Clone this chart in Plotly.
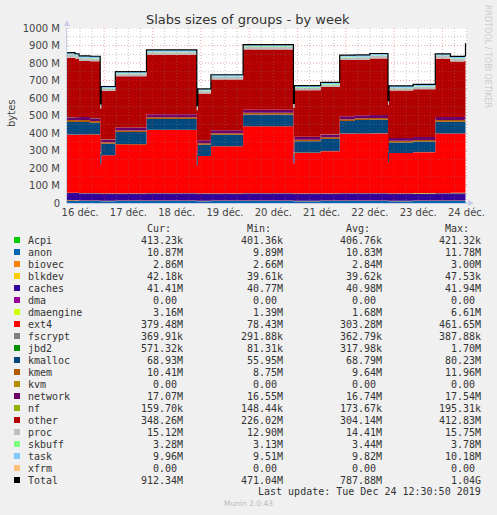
import numpy as np
import pandas as pd
import plotly.graph_objects as go

# sample times (30 min resolution, only where the values change)
times = ["2019-12-16 05:30", "2019-12-16 09:30", "2019-12-16 11:30", "2019-12-16 17:00",
         "2019-12-16 22:00", "2019-12-16 22:30", "2019-12-17 05:30", "2019-12-17 21:00",
         "2019-12-18 22:00", "2019-12-18 22:30", "2019-12-19 05:00", "2019-12-19 21:00",
         "2019-12-20 22:00", "2019-12-20 22:30", "2019-12-21 11:30", "2019-12-21 21:00",
         "2019-12-22 04:30", "2019-12-22 12:00", "2019-12-22 21:00", "2019-12-22 21:30",
         "2019-12-23 09:30", "2019-12-23 20:30", "2019-12-24 04:00", "2019-12-24 11:00",
         "2019-12-24 11:30"]

# values in M bytes, stacked in this order
acpi = [0.42, 0.42, 0.41, 0.41, 0.40, 0.40, 0.40, 0.41, 0.40, 0.40, 0.40, 0.41, 0.40,
        0.40, 0.41, 0.41, 0.41, 0.41, 0.40, 0.40, 0.41, 0.41, 0.41, 0.41, 0.41]
anon = [11.7, 11.6, 11.5, 11.3, 9.9, 10.0, 10.4, 11.2, 9.9, 10.0, 10.5, 11.3, 9.9,
        10.1, 10.4, 11.0, 11.2, 11.2, 9.9, 10.1, 10.5, 10.9, 10.9, 10.9, 10.87]
biovec = [2.95, 2.95, 2.9, 2.9, 2.7, 2.7, 2.8, 2.9, 2.7, 2.7, 2.8, 2.9, 2.7,
          2.7, 2.8, 2.9, 2.9, 2.9, 2.7, 2.75, 2.8, 2.85, 2.85, 2.85, 2.86]
blkdev = [0.047, 0.045, 0.042, 0.040, 0.040, 0.040, 0.040, 0.040, 0.040, 0.040, 0.040, 0.040, 0.040,
          0.040, 0.040, 0.040, 0.040, 0.040, 0.040, 0.040, 0.040, 0.042, 0.042, 0.042, 0.042]
caches = [41.9, 41.8, 41.5, 41.3, 40.8, 40.8, 40.9, 41.1, 40.8, 40.8, 40.9, 41.1, 40.8,
          40.8, 40.9, 41.1, 41.1, 41.2, 40.8, 40.9, 41.0, 41.3, 41.3, 41.4, 41.41]
dmaengine = [1.5, 1.5, 1.5, 1.6, 1.4, 1.4, 1.5, 1.6, 1.4, 1.4, 1.5, 1.7, 1.4,
             1.4, 1.6, 1.8, 1.9, 2.0, 1.4, 1.5, 1.7, 2.2, 2.4, 2.6, 3.16]
ext4 = [332, 332, 333, 334, 166, 217, 280, 360, 161, 213, 268, 381, 170,
        232, 240, 339, 339, 340, 178, 230, 234, 339, 339, 340, 379.48]
fscrypt = [0.38, 0.38, 0.38, 0.37, 0.30, 0.35, 0.36, 0.37, 0.29, 0.35, 0.36, 0.37, 0.30,
           0.35, 0.36, 0.37, 0.37, 0.37, 0.30, 0.35, 0.36, 0.37, 0.37, 0.37, 0.37]
jbd2 = [0.3, 0.3, 0.3, 0.3, 0.1, 0.2, 0.3, 0.3, 0.1, 0.2, 0.3, 0.4, 0.1,
        0.2, 0.3, 0.4, 0.4, 0.4, 0.1, 0.2, 0.3, 0.5, 0.5, 0.5, 0.57]
kmalloc = [72, 72, 72, 66, 60, 65, 69, 62, 58, 64, 65, 66, 57,
           65, 69, 72, 77, 77, 58, 60, 60, 66, 66, 67, 68.93]
kmem = [10.5, 10.5, 10.4, 10.0, 8.8, 9.0, 9.3, 9.8, 8.8, 9.0, 9.3, 10.2, 8.8,
        9.1, 9.5, 10.0, 10.2, 10.2, 8.8, 9.1, 9.4, 10.2, 10.3, 10.4, 10.41]
network = [16.9, 16.9, 16.8, 16.7, 16.6, 16.6, 16.7, 16.8, 16.6, 16.6, 16.7, 16.9, 16.6,
           16.6, 16.7, 16.8, 16.9, 16.9, 16.6, 16.6, 16.7, 17.0, 17.0, 17.1, 17.07]
nf = [0.19, 0.19, 0.18, 0.18, 0.15, 0.16, 0.17, 0.18, 0.15, 0.16, 0.17, 0.18, 0.15,
      0.16, 0.17, 0.18, 0.18, 0.18, 0.15, 0.16, 0.17, 0.16, 0.16, 0.16, 0.16]
other = [339, 333, 321, 325, 233, 276, 292, 340, 230, 267, 290, 344, 234.5,
         265.6, 270, 321, 316.5, 323, 242.5, 270.5, 273, 333.5, 318, 318, 348.26]
proc = [15.6, 15.5, 15.3, 15.2, 13.0, 13.3, 14.0, 14.9, 12.9, 13.3, 14.0, 15.1, 13.0,
        13.4, 14.0, 14.8, 14.9, 15.0, 13.0, 13.4, 14.0, 15.0, 15.0, 15.1, 15.12]
skbuff = [3.7, 3.6, 3.5, 3.5, 3.2, 3.2, 3.3, 3.4, 3.2, 3.2, 3.3, 3.5, 3.2,
          3.2, 3.3, 3.4, 3.4, 3.5, 3.2, 3.2, 3.3, 3.3, 3.3, 3.3, 3.28]
task = [10.1, 10.1, 10.0, 9.9, 9.6, 9.6, 9.7, 9.9, 9.6, 9.6, 9.7, 10.0, 9.6,
        9.6, 9.7, 9.9, 9.9, 10.0, 9.6, 9.6, 9.7, 9.9, 9.9, 9.96, 9.96]

day_ticks = ["2019-12-16 12:00", "2019-12-17 12:00", "2019-12-18 12:00", "2019-12-19 12:00",
             "2019-12-20 12:00", "2019-12-21 12:00", "2019-12-22 12:00", "2019-12-23 12:00",
             "2019-12-24 12:00"]
day_labels = ["16 déc.", "17 déc.", "18 déc.", "19 déc.", "20 déc.", "21 déc.", "22 déc.",
              "23 déc.", "24 déc."]
y_ticks = [0, 100, 200, 300, 400, 500, 600, 700, 800, 900, 1000]
y_labels = ["0", "100 M", "200 M", "300 M", "400 M", "500 M", "600 M", "700 M", "800 M",
            "900 M", "1000 M"]

# legend table
names = ["Acpi", "anon", "biovec", "blkdev", "caches", "dma", "dmaengine", "ext4", "fscrypt",
         "jbd2", "kmalloc", "kmem", "kvm", "network", "nf", "other", "proc", "skbuff", "task",
         "xfrm", "Total"]
colors = ["#00CC00", "#0066B3", "#FF8000", "#FFCC00", "#330099", "#990099", "#CCFF00",
          "#FF0000", "#808080", "#008F00", "#00487D", "#B35A00", "#B38F00", "#6B006B",
          "#8FB300", "#B30000", "#BEBEBE", "#80FF80", "#80C9FF", "#FFC080", "#000000"]
cur_vals = ["413.23k", "10.87M", "2.86M", "42.18k", "41.41M", "0.00", "3.16M", "379.48M",
            "369.91k", "571.32k", "68.93M", "10.41M", "0.00", "17.07M", "159.70k", "348.26M",
            "15.12M", "3.28M", "9.96M", "0.00", "912.34M"]
min_vals = ["401.36k", "9.89M", "2.66M", "39.61k", "40.77M", "0.00", "1.39M", "78.43M",
            "291.88k", "81.31k", "55.95M", "8.75M", "0.00", "16.55M", "148.44k", "226.02M",
            "12.90M", "3.13M", "9.51M", "0.00", "471.04M"]
avg_vals = ["406.76k", "10.83M", "2.84M", "39.62k", "40.98M", "0.00", "1.68M", "303.28M",
            "362.79k", "317.98k", "68.79M", "9.64M", "0.00", "16.74M", "173.67k", "304.14M",
            "14.41M", "3.44M", "9.82M", "0.00", "787.88M"]
max_vals = ["421.32k", "11.78M", "3.00M", "47.53k", "41.94M", "0.00", "6.61M", "461.65M",
            "387.88k", "1.70M", "80.23M", "11.96M", "0.00", "17.54M", "195.31k", "412.83M",
            "15.75M", "3.78M", "10.18M", "0.00", "1.04G"]

stack = {"Acpi": acpi, "anon": anon, "biovec": biovec, "blkdev": blkdev, "caches": caches,
         "dmaengine": dmaengine, "ext4": ext4, "fscrypt": fscrypt, "jbd2": jbd2,
         "kmalloc": kmalloc, "kmem": kmem, "network": network, "nf": nf, "other": other,
         "proc": proc, "skbuff": skbuff, "task": task}
df = pd.DataFrame(stack)
df["time"] = pd.to_datetime(times)
total = df[list(stack.keys())].sum(axis=1)

L, T, W, H = 67, 28, 400, 175
def px(x):
    return (x - L) / W
def py(y):
    return (T + H - y) / H

fig = go.Figure()
for name in stack:
    fig.add_trace(go.Scatter(
        x=df["time"], y=df[name], name=name,
        stackgroup="one", mode="none",
        fillcolor=colors[names.index(name)],
        line=go.scatter.Line(shape="hv")))

fig.add_trace(go.Scatter(
    x=df["time"], y=total, name="Total", mode="lines",
    line=dict(color="black", width=1.2, shape="hv")))

grid_minor = "rgba(128,128,128,0.45)"
grid_major = "rgba(225,60,60,0.45)"
shapes = []
for v in range(50, 1001, 50):
    shapes.append(dict(type="line", xref="paper", yref="y", x0=0, x1=1, y0=v, y1=v,
                       layer="above", line=dict(color=grid_major if v % 100 == 0 else grid_minor,
                                                width=1, dash="1px,2px")))
for t in pd.date_range("2019-12-16 06:00", "2019-12-24 12:00", freq="6h"):
    shapes.append(dict(type="line", xref="x", yref="paper", x0=t, x1=t, y0=0, y1=1,
                       layer="above", line=dict(color=grid_major if t.hour == 0 else grid_minor,
                                                width=1, dash="1px,2px")))
# axis arrows
shapes.append(dict(type="path", xref="paper", yref="paper", layer="above",
                   path=f"M {px(64)} {py(26)} L {px(70)} {py(26)} L {px(67)} {py(20)} Z",
                   fillcolor="#c8cce8", line=dict(width=0)))
shapes.append(dict(type="path", xref="paper", yref="paper", layer="above",
                   path=f"M {px(468)} {py(200)} L {px(468)} {py(206)} L {px(474)} {py(203)} Z",
                   fillcolor="#c8cce8", line=dict(width=0)))

ann = []
def text(x, y, s, size=10, color="#333", anchor="left", family="DejaVu Sans Mono", **kw):
    ann.append(dict(x=px(x), y=py(y), xref="paper", yref="paper", text=s, showarrow=False,
                    xanchor=anchor, yanchor="middle", font=dict(family=family, size=size,
                                                                  color=color), **kw))

text(248, 19, "Slabs sizes of groups - by week", size=13, anchor="center",
     family="DejaVu Sans", color="#333")
text(11, 113, "bytes", size=10, anchor="center", family="DejaVu Sans", color="#444",
     textangle=-90)
text(488, 56, "RRDTOOL / TOBI OETIKER", size=8, anchor="center", family="DejaVu Sans",
     color="#cccccc", textangle=90)

col_ends = [185, 285, 384, 483]
for c, h in zip(col_ends, ["Cur:", "Min:", "Avg:", "Max:"]):
    text(c - 12, 228, h, anchor="right")
for i, name in enumerate(names):
    y = 240 + 12 * i
    shapes.append(dict(type="rect", xref="paper", yref="paper", x0=px(14), x1=px(20),
                       y0=py(y - 3), y1=py(y + 3), fillcolor=colors[i], line=dict(width=0)))
    text(26, y, name)
    for c, vals in zip(col_ends, [cur_vals, min_vals, avg_vals, max_vals]):
        s = vals[i]
        text(c, y, s, anchor="right", xshift=-6 if s[-1].isdigit() else 0)
text(483, 492, "Last update: Tue Dec 24 12:30:50 2019", anchor="right")
text(248, 504, "Munin 2.0.43", size=7.5, anchor="center", family="DejaVu Sans", color="#bbbbbb")

fig.update_layout(
    width=497, height=515, autosize=False,
    margin=dict(l=L, r=497 - L - W, t=T, b=515 - T - H),
    paper_bgcolor="#F0F0F0", plot_bgcolor="#FFFFFF",
    showlegend=False, shapes=shapes, annotations=ann,
    font=dict(family="DejaVu Sans", size=10, color="#444"))
fig.update_xaxes(type="date", range=["2019-12-16 05:30", "2019-12-24 12:15"],
                 tickvals=day_ticks, ticktext=day_labels, ticks="", showgrid=False,
                 zeroline=False, showline=True, linecolor="#c8cce0", linewidth=1,
                 tickfont=dict(size=10, color="#444"))
fig.update_yaxes(range=[0, 1000], tickvals=y_ticks, ticktext=y_labels, ticks="",
                 showgrid=False, zeroline=False, showline=True, linecolor="#c8cce0",
                 linewidth=1, ticklabelstandoff=4, tickfont=dict(size=10, color="#444"))

# the page body has a default 8px margin; drop it so the figure fills the window
fig.write_html("out.html", config={"displayModeBar": False},
               post_script="document.body.style.margin = '0';")
